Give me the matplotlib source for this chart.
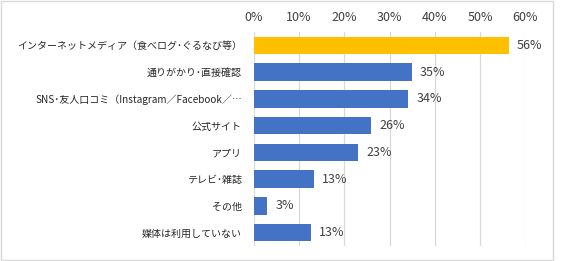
import matplotlib.pyplot as plt
from matplotlib.patches import Rectangle
from matplotlib.ticker import FuncFormatter

plt.rcParams['font.family'] = ['Noto Sans CJK JP', 'DejaVu Sans']

categories = [
    'インターネットメディア（食べログ･ぐるなび等）',
    '通りがかり･直接確認',
    'SNS･友人口コミ（Instagram／Facebook／…',
    '公式サイト',
    'アプリ',
    'テレビ･雑誌',
    'その他',
    '媒体は利用していない',
]
values = [56.3, 34.9, 34.1, 25.9, 23.0, 13.3, 2.9, 12.6]
labels = ['56%', '35%', '34%', '26%', '23%', '13%', '3%', '13%']
colors = ['#FFC000'] + ['#4472C4'] * 7

W, H = 569, 261
fig = plt.figure(figsize=(W / 100, H / 100), dpi=100)
fig.patches.append(Rectangle((0.5 / W, 1.5 / H), 552.5 / W, 258.5 / H,
                             transform=fig.transFigure, fill=False,
                             edgecolor='#d9d9d9', linewidth=1))

ax = fig.add_axes([253.7 / W, 15 / H, 271.6 / W, 214 / H])
y = list(range(len(categories)))
ax.barh(y, values, height=0.65, color=colors, zorder=2)
for yi, v, lab in zip(y, values, labels):
    ax.annotate(lab, (v, yi), xytext=(6, 0), textcoords='offset points',
                va='center', ha='left', fontsize=9, color='#404040')

ax.set_xlim(0, 60)
ax.set_ylim(len(categories) - 0.5, -0.5)
ax.set_xticks(range(0, 61, 10))
ax.xaxis.set_major_formatter(FuncFormatter(lambda x, p: f'{x:.0f}%'))
ax.xaxis.tick_top()
ax.set_yticks(y)
ax.set_yticklabels(categories)
ax.tick_params(axis='x', length=0, pad=6, labelsize=9, colors='#404040')
ax.tick_params(axis='y', length=0, pad=8.6, labelsize=7.2, colors='#262626')
ax.grid(axis='x', color='#d9d9d9', linewidth=0.9, zorder=0)
for s in ax.spines.values():
    s.set_visible(False)

fig.savefig('out.png', dpi=100)
